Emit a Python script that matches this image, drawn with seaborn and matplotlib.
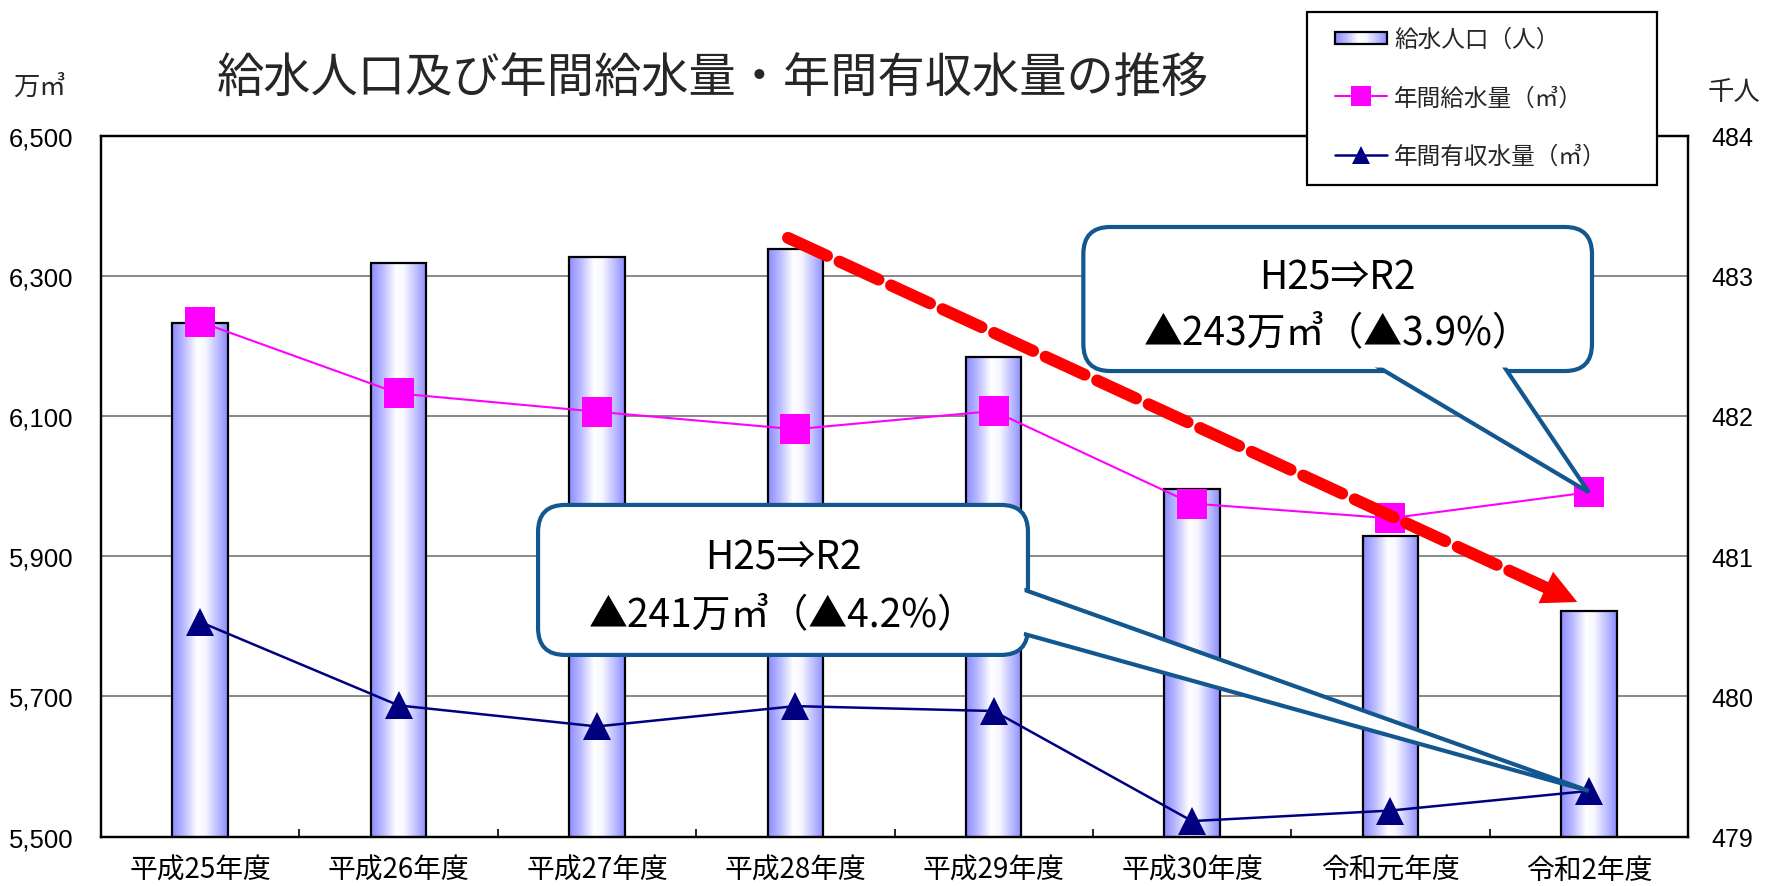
import numpy as np
import pandas as pd
import matplotlib
matplotlib.use("Agg")
import matplotlib.pyplot as plt
import seaborn as sns
from matplotlib.colors import LinearSegmentedColormap
from matplotlib.legend_handler import HandlerBase, HandlerLine2D
from matplotlib.lines import Line2D
from matplotlib.patches import FancyBboxPatch, Polygon, Rectangle
from matplotlib.transforms import IdentityTransform

# ---- data -------------------------------------------------------------
years = ["平成25年度", "平成26年度", "平成27年度", "平成28年度",
         "平成29年度", "平成30年度", "令和元年度", "令和2年度"]
population_k = [482.66, 483.09, 483.13, 483.19, 482.42, 481.48, 481.14, 480.61]   # 千人
supply_man_m3 = [6234, 6132, 6106, 6081, 6107, 5975, 5954, 5991]                 # 万㎥
revenue_man_m3 = [5806, 5687, 5657, 5686, 5679, 5522, 5537, 5565]                # 万㎥

supply_ticks = [5500, 5700, 5900, 6100, 6300, 6500]
population_ticks = [479, 480, 481, 482, 483, 484]
series_labels = ["給水人口（人）", "年間給水量（㎥）", "年間有収水量（㎥）"]
title = "給水人口及び年間給水量・年間有収水量の推移"

# ---- style ------------------------------------------------------------
sns.set_theme(style="white")
JP = ["Noto Sans CJK JP", "DejaVu Sans"]
NUM = ["Liberation Sans", "DejaVu Sans"]
plt.rcParams["font.family"] = JP

MAGENTA = "#FF00FF"
NAVY = "#000080"
CALLOUT = "#12578F"
bar_cmap = LinearSegmentedColormap.from_list(
    "bar", [(0.0, "#8c8cff"), (0.2, "#b8b8ff"), (0.45, "#ffffff"),
            (0.6, "#f6f6ff"), (0.82, "#bcbcff"), (1.0, "#8c8cff")])

W, H = 1766, 887
fig = plt.figure(figsize=(W / 100, H / 100), dpi=100)
fig.patch.set_facecolor("white")
left, right, top, bottom = 101, 1688, 136.5, 837.5
ax = fig.add_axes([left / W, 1 - bottom / H, (right - left) / W, (bottom - top) / H])

df = pd.DataFrame({"年度": years, "給水人口": population_k,
                   "年間給水量": supply_man_m3, "年間有収水量": revenue_man_m3})

# population bars (right axis, 千人) with a horizontal gradient fill
sns.barplot(data=df, x="年度", y="給水人口", ax=ax, width=0.28, color="white",
            saturation=1, edgecolor="black", linewidth=1.6, zorder=2)
ax.set_xlim(-0.5, len(years) - 0.5)
ax.set_ylim(population_ticks[0], population_ticks[-1])
ymin = ax.get_ylim()[0]
grad = np.linspace(0, 1, 256).reshape(1, -1)
for p in list(ax.patches):
    x0, w = p.get_x(), p.get_width()
    y_top = p.get_y() + p.get_height()
    im = ax.imshow(grad, cmap=bar_cmap, extent=(x0, x0 + w, ymin, y_top),
                   aspect="auto", interpolation="bilinear", zorder=1.9)
    im.set_clip_path(p)
    p.set_facecolor("none")

ax.set_xlim(-0.5, len(years) - 0.5)
ax.set_ylim(population_ticks[0], population_ticks[-1])

# water volume lines (left axis, 万㎥)
ax2 = ax.twinx()
xpos = np.arange(len(years))
sns.lineplot(x=xpos, y=supply_man_m3, ax=ax2, color=MAGENTA, linewidth=1.5,
             marker="s", markersize=21, markeredgewidth=0, legend=False, zorder=4)
sns.lineplot(x=xpos, y=revenue_man_m3, ax=ax2, color=NAVY, linewidth=1.8,
             marker="^", markersize=20, markeredgewidth=0, legend=False, zorder=4)
ax2.set_xlim(-0.5, len(years) - 0.5)
ax2.set_ylim(supply_ticks[0], supply_ticks[-1])

# ---- axes cosmetics ---------------------------------------------------
ax.yaxis.tick_right()
ax.set_yticks(population_ticks)
ax.set_yticklabels([str(v) for v in population_ticks], family=NUM)
ax.tick_params(axis="y", length=0, pad=17, labelsize=18, colors="black")
ax.yaxis.grid(True, color="#6a6a6a", linewidth=1.1)
ax.xaxis.grid(False)
ax.set_axisbelow(True)

ax2.yaxis.tick_left()
ax2.set_yticks(supply_ticks)
ax2.set_yticklabels([f"{v:,}" for v in supply_ticks], family=NUM)
ax2.tick_params(axis="y", length=0, pad=20, labelsize=18.5, colors="black")
ax2.grid(False)

ax.set_xticks(xpos)
ax.set_xticklabels(years)
ax.set_xticks(np.arange(0.5, len(years) - 1, 1), minor=True)
ax.tick_params(axis="x", which="major", length=0, pad=13, labelsize=20, colors="black")
ax.tick_params(axis="x", which="minor", bottom=True, direction="in", length=6,
               width=1.2, color="black")
ax.set_xlabel("")
ax.set_ylabel("")
ax2.set_ylabel("")
for a in (ax, ax2):
    for s in a.spines.values():
        s.set_color("black")
        s.set_linewidth(1.6)

# ---- titles and unit labels ------------------------------------------
fig.text(713 / W, 1 - 79 / H, title, ha="center", va="center", fontsize=34)
fig.text(13 / W, 1 - 87 / H, "万㎥", ha="left", va="center", fontsize=19)
fig.text(1708 / W, 1 - 92 / H, "千人", ha="left", va="center", fontsize=19)


# ---- legend ------------------------------------------------------------
class GradientBarHandler(HandlerBase):
    def create_artists(self, legend, orig_handle, xdescent, ydescent,
                       width, height, fontsize, trans):
        hh = height * 0.72
        x0 = -xdescent
        y0 = -ydescent + (height - hh) / 2
        n = 32
        arts = []
        for i in range(n):
            arts.append(Rectangle((x0 + width * i / n, y0), width / n * 1.08, hh,
                                  facecolor=bar_cmap((i + 0.5) / n), edgecolor="none",
                                  transform=trans))
        arts.append(Rectangle((x0, y0), width, hh, fill=False, edgecolor="black",
                              linewidth=1.6, transform=trans))
        return arts


bar_handle = Rectangle((0, 0), 1, 1)
supply_handle = Line2D([], [], color=MAGENTA, linewidth=1.5, marker="s",
                       markersize=14, markeredgewidth=0)
revenue_handle = Line2D([], [], color=NAVY, linewidth=1.8, marker="^",
                        markersize=13, markeredgewidth=0)
leg = ax2.legend([bar_handle, supply_handle, revenue_handle], series_labels,
                 handler_map={bar_handle: GradientBarHandler(xpad=0.5),
                              supply_handle: HandlerLine2D(xpad=0.5),
                              revenue_handle: HandlerLine2D(xpad=0.5)},
                 loc="upper left", mode="expand",
                 bbox_to_anchor=(1307 / W, 1 - 12.7 / H, (1657 - 1307) / W, 0),
                 bbox_transform=fig.transFigure, borderaxespad=0,
                 fontsize=17, handlelength=2.7, handletextpad=0.3,
                 borderpad=0.7, labelspacing=1.5, fancybox=False,
                 framealpha=1, frameon=True)
leg.get_frame().set_edgecolor("black")
leg.get_frame().set_linewidth(1.6)
leg.set_zorder(10)

# ---- trend arrow -------------------------------------------------------
to_px = ax2.transData.transform
to_data = ax2.transData.inverted().transform
arrow_start = np.array([2.963, 6354.0])
arrow_tip = np.array([6.942, 5834.5])
p0, p1 = to_px(arrow_start), to_px(arrow_tip)
direction = (p1 - p0) / np.hypot(*(p1 - p0))
shaft_end = to_data(p1 - direction * 22)
head_back = to_data(p1 - direction * 34)
ax2.annotate("", xy=shaft_end, xytext=arrow_start,
             arrowprops=dict(arrowstyle="-", color="#FF0000", linewidth=8.6,
                             linestyle=(0, (3.6, 1.15)), shrinkA=0, shrinkB=0),
             zorder=5)
ax2.annotate("", xy=arrow_tip, xytext=head_back,
             arrowprops=dict(arrowstyle="-|>,head_length=1.0,head_width=0.5",
                             mutation_scale=25, color="#FF0000", linewidth=0,
                             shrinkA=0, shrinkB=0),
             zorder=5)


# ---- callouts ----------------------------------------------------------
def callout(box_lo, box_hi, base_a, base_b, tip_data, lines, fontsize=28):
    frac = ax2.transAxes.transform
    (bx0, by0), (bx1, by1) = frac(box_lo), frac(box_hi)
    tip = ax2.transData.transform(tip_data)
    a, b = frac(base_a), frac(base_b)
    ident = IdentityTransform()
    r = 27
    outer = FancyBboxPatch((bx0, by0), bx1 - bx0, by1 - by0,
                           boxstyle=f"round,pad=0,rounding_size={r}",
                           facecolor="white", edgecolor=CALLOUT, linewidth=3,
                           transform=ident, zorder=7)
    ax2.add_patch(outer)

    def extend(pt):
        d = pt - tip
        return pt + d / np.hypot(*d) * 18

    wedge = Polygon([extend(a), tip, extend(b)], closed=True, facecolor="white",
                    edgecolor=CALLOUT, linewidth=3, joinstyle="miter",
                    transform=ident, zorder=7.1)
    ax2.add_patch(wedge)
    inset = 3.5
    inner = FancyBboxPatch((bx0 + inset, by0 + inset), bx1 - bx0 - 2 * inset,
                           by1 - by0 - 2 * inset,
                           boxstyle=f"round,pad=0,rounding_size={r - inset}",
                           facecolor="white", edgecolor="none",
                           transform=ident, zorder=7.2)
    ax2.add_patch(inner)
    cx = (bx0 + bx1) / 2
    hgt = by1 - by0
    for frac_y, txt in zip((0.35, 0.73), lines):
        ax2.text(cx, by1 - hgt * frac_y, txt, ha="center", va="center",
                 fontsize=fontsize, color="black", transform=ident, zorder=7.3)


def change_text(series):
    diff = series[0] - series[-1]
    pct = diff / series[0] * 100
    return ["H25⇒R2", f"▲{diff}万㎥（▲{pct:.1f}%）"]


last = len(years) - 1
callout((0.619, 0.664), (0.9395, 0.8695), (0.809, 0.664), (0.886, 0.664),
        (last, supply_man_m3[-1]), change_text(supply_man_m3))
callout((0.2754, 0.259), (0.5841, 0.473), (0.5841, 0.350), (0.5841, 0.2874),
        (last, revenue_man_m3[-1]), change_text(revenue_man_m3))

fig.savefig("out.png", dpi=100, facecolor="white")
